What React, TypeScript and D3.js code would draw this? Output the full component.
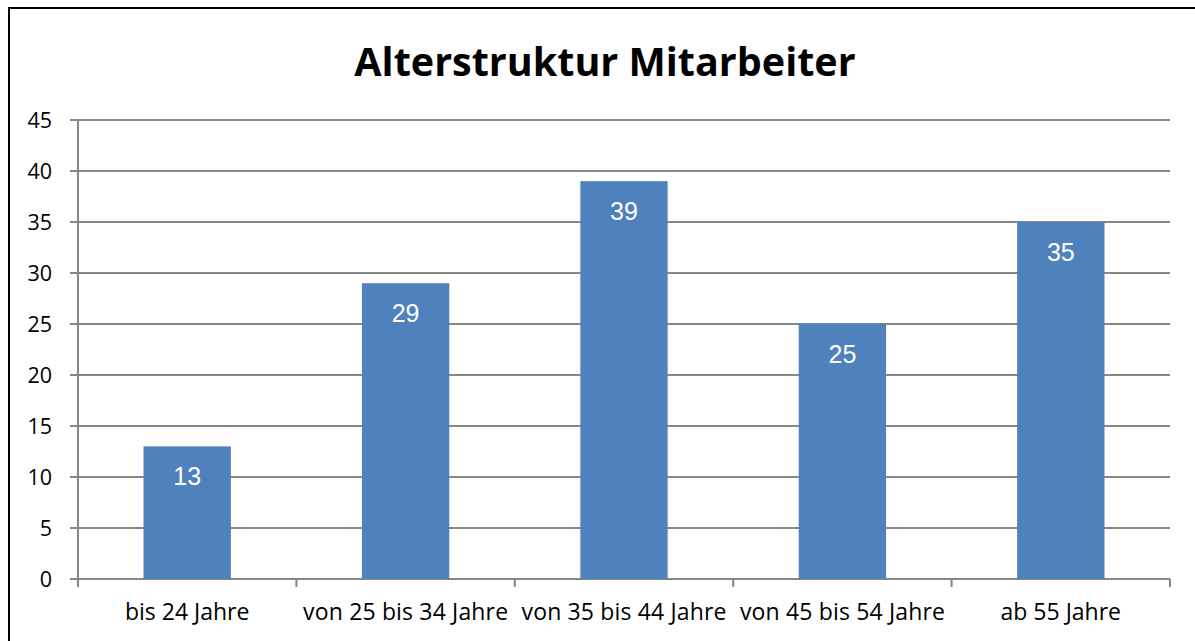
import React from "react";
import * as d3 from "d3";

const categories = ["bis 24 Jahre", "von 25 bis 34 Jahre", "von 35 bis 44 Jahre", "von 45 bis 54 Jahre", "ab 55 Jahre"];
const values = [13, 29, 39, 25, 35];
const yTicks = [0, 5, 10, 15, 20, 25, 30, 35, 40, 45];
const title = "Alterstruktur Mitarbeiter";

export default function App() {
  const W = 1195, H = 641;
  const left = 78, right = 1170, top = 120, bottom = 579;
  const x = d3.scaleBand<string>().domain(categories).range([left, right]).paddingInner(0.6).paddingOuter(0.3);
  const xb = d3.scaleBand<string>().domain(categories).range([left, right]);
  const y = d3.scaleLinear().domain([0, 45]).range([bottom, top]);
  const font = "'Open Sans', 'Noto Sans', sans-serif";
  return (
    <svg width={W} height={H} style={{ position: "absolute", left: 0, top: 0 }}>
      <rect x={0} y={0} width={W} height={H} fill="#fff" />
      <rect x={9} y={8} width={W + 20} height={H + 20} fill="none" stroke="#000" strokeWidth={2} />
      <text x={605} y={62} dy="0.35em" textAnchor="middle" fontFamily={font} fontWeight="bold" fontSize={39.5} fill="#000">{title}</text>
      {yTicks.map((t) => (
        <g key={t}>
          <line x1={left} x2={right} y1={y(t)} y2={y(t)} stroke="#868686" strokeWidth={2} />
          <line x1={70} x2={left} y1={y(t)} y2={y(t)} stroke="#868686" strokeWidth={2} />
          <text x={52} y={y(t)} dy="0.35em" textAnchor="end" fontFamily={font} fontSize={21.5} fill="#000">{t}</text>
        </g>
      ))}
      <line x1={left} x2={left} y1={top} y2={bottom + 8} stroke="#868686" strokeWidth={2} />
      {categories.map((c) => (
        <line key={c} x1={(xb(c) as number) + xb.bandwidth()} x2={(xb(c) as number) + xb.bandwidth()} y1={bottom} y2={bottom + 8} stroke="#868686" strokeWidth={2} />
      ))}
      {categories.map((c, i) => (
        <g key={c}>
          <rect x={x(c)} y={y(values[i])} width={x.bandwidth()} height={bottom - y(values[i])} fill="#4f81bd" />
          <text x={(x(c) as number) + x.bandwidth() / 2} y={y(values[i]) + 30} dy="0.35em" textAnchor="middle" fontFamily="'Liberation Sans', Arial, sans-serif" fontSize={25} fill="#fff">{values[i]}</text>
          <text x={(xb(c) as number) + xb.bandwidth() / 2} y={612} dy="0.35em" textAnchor="middle" fontFamily={font} fontSize={23} textLength={c.length > 12 ? 205 : undefined} fill="#000">{c}</text>
        </g>
      ))}
    </svg>
  );
}
